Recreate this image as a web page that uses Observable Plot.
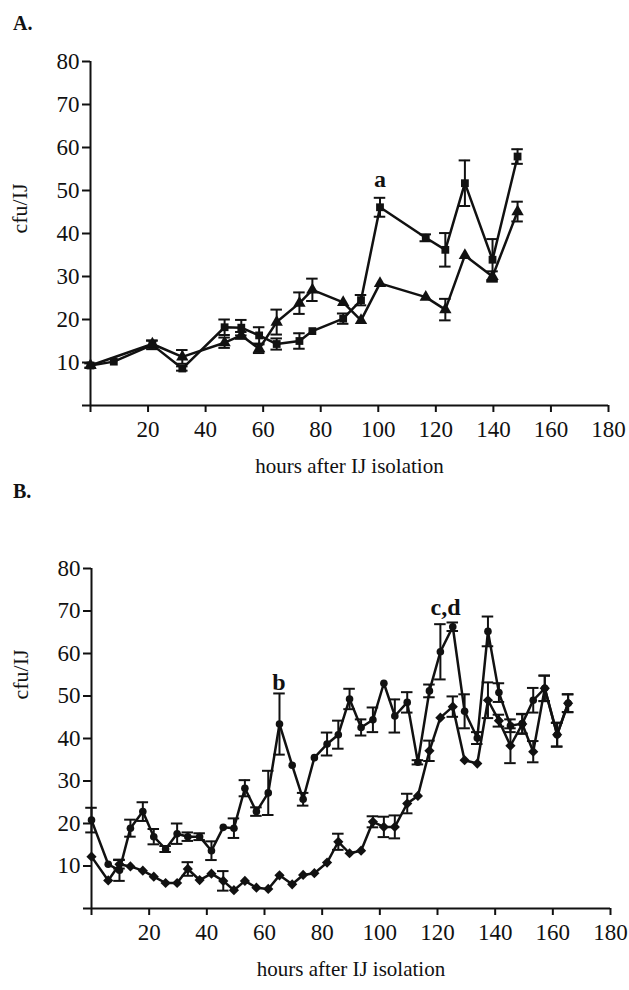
<!DOCTYPE html>
<html>
<head>
<meta charset="utf-8">
<script src="https://cdn.jsdelivr.net/npm/d3@7"></script>
<script src="https://cdn.jsdelivr.net/npm/@observablehq/plot@0.6"></script>
<style>
  body { margin: 0; background: #fff; }
  #wrap { position: relative; width: 629px; height: 990px; overflow: hidden; }
  .panel { position: absolute; left: 0; }
  .hd { position: absolute; left: 13px; font-family: "Liberation Serif", "Times New Roman", serif; font-weight: bold; font-size: 20px; line-height: 1; color: #111; }
</style>
</head>
<body>
<div id="wrap">
  <div id="pa" class="panel" style="top:0px"></div>
  <div id="pb" class="panel" style="top:490px"></div>
  <div class="hd" style="top:13px">A.</div>
  <div class="hd" style="top:481px">B.</div>
</div>
<script>
// ---------- Panel A data ----------
const hoursA_square = [0, 8.1, 21.5, 31.9, 46.6, 52.4, 58.6, 64.7, 72.6, 77.1, 87.8, 94.0, 100.6, 116.5, 123.3, 130.1, 139.7, 148.4];
const cfuA_square   = [9.3, 10.2, 14.1, 8.6, 18.2, 18.1, 16.3, 14.3, 15.0, 17.3, 20.2, 24.5, 46.1, 39.0, 36.2, 51.7, 33.9, 57.9];
const errA_square   = [0.5, 0, 1.0, 0.5, 1.8, 1.8, 1.9, 1.3, 1.8, 0, 1.2, 1.2, 2.2, 0.8, 3.9, 5.3, 4.8, 1.7];

const hoursA_triangle = [0, 21.5, 31.9, 46.6, 52.4, 58.6, 64.7, 72.6, 77.1, 87.8, 94.0, 100.6, 116.5, 123.3, 130.1, 139.7, 148.4];
const cfuA_triangle   = [9.3, 14.3, 11.3, 14.6, 16.3, 13.2, 19.4, 23.8, 26.9, 24.0, 19.8, 28.4, 25.2, 22.3, 34.9, 30.0, 45.1];
const errA_triangle   = [0, 0.8, 1.6, 1.2, 0.8, 1.0, 2.9, 2.5, 2.6, 0, 0, 0, 0, 2.5, 0, 1.2, 2.3];

// ---------- Panel B data ----------
const hoursB = [0, 5.8, 9.7, 13.5, 17.8, 21.6, 25.7, 29.7, 33.4, 37.5, 41.6, 45.7, 49.4, 53.2, 57.2, 61.3, 65.2, 69.6, 73.4, 77.3, 81.7, 85.6, 89.5, 93.5, 97.6, 101.4, 105.2, 109.5, 113.2, 117.2, 121.0, 125.3, 129.4, 133.8, 137.5, 141.3, 145.3, 149.4, 153.2, 157.2, 161.5, 165.3];
const cfuB_circle = [20.8, 10.4, 9.0, 18.9, 22.8, 16.9, 14.0, 17.6, 16.9, 16.9, 13.6, 19.1, 18.9, 28.3, 22.8, 27.2, 43.4, 33.7, 25.7, 35.5, 38.7, 40.9, 49.3, 42.6, 44.4, 53.0, 45.3, 48.5, 34.4, 51.2, 60.4, 66.3, 46.4, 40.1, 65.2, 50.8, 43.0, 43.5, 49.0, 51.8, 40.9, 48.3];
const errB_circle = [2.9, 0, 2.5, 2.0, 2.2, 1.8, 0.7, 2.4, 1.0, 0.8, 2.2, 0, 2.3, 1.9, 1.0, 5.2, 7.2, 0, 1.5, 0, 2.7, 3.3, 2.4, 1.9, 2.9, 0, 3.9, 2.4, 0.5, 1.5, 6.5, 1.0, 4.0, 1.4, 3.5, 2.2, 1.5, 2.3, 2.9, 3.0, 2.8, 2.1];
const cfuB_diamond = [12.2, 6.6, 10.4, 9.9, 8.9, 7.5, 6.0, 6.0, 9.3, 6.7, 8.2, 6.5, 4.3, 6.5, 4.9, 4.6, 7.8, 5.7, 7.9, 8.3, 10.8, 15.7, 13.0, 13.6, 20.4, 19.2, 19.2, 24.7, 26.5, 37.1, 44.9, 47.5, 34.9, 34.1, 49.0, 44.2, 38.3, 43.4, 36.9, 51.8, 40.9, 48.3];
const errB_diamond = [0, 0, 1.0, 0, 0, 0, 0, 0, 1.6, 0, 0, 2.3, 0, 0, 0, 0, 0, 0, 0, 0, 0, 1.9, 0, 0, 1.3, 2.4, 2.7, 2.3, 0, 2.4, 0, 2.4, 0, 0, 4.2, 1.4, 4.1, 2.3, 2.5, 3.0, 2.8, 2.1];

// ---------- Axis ticks & texts ----------
const xTicks = [0, 20, 40, 60, 80, 100, 120, 140, 160, 180];
const yTicks = [0, 10, 20, 30, 40, 50, 60, 70, 80];
const xTitle = "hours after IJ isolation";
const yTitle = "cfu/IJ";
const notesA = [{label: "a", x: 100.6, y: 52.5}];
const notesB = [{label: "b", x: 65.0, y: 53.2}, {label: "c,d", x: 122.8, y: 70.8}];

const rows = (xs, ys, es) => xs.map((x, i) => ({x, y: ys[i], e: es[i]}));

const FONT = "'Liberation Serif', 'Times New Roman', serif";
const INK = "#111";

function seriesMarks(data, symbol, r) {
  const withErr = data.filter(d => d.e > 0);
  const cap = 2;
  return [
    Plot.line(data, {x: "x", y: "y", stroke: INK, strokeWidth: 2.5}),
    Plot.ruleX(withErr, {x: "x", y1: d => d.y - d.e, y2: d => d.y + d.e, stroke: INK, strokeWidth: 2}),
    Plot.ruleY(withErr, {y: d => d.y + d.e, x1: d => d.x - cap, x2: d => d.x + cap, stroke: INK, strokeWidth: 2}),
    Plot.ruleY(withErr, {y: d => d.y - d.e, x1: d => d.x - cap, x2: d => d.x + cap, stroke: INK, strokeWidth: 2}),
    Plot.dot(data, {x: "x", y: "y", symbol, r, fill: INK, stroke: "none"})
  ];
}

function panel({height, marginTop, marginBottom, marginLeft, marginRight, series, notes, yTitleDy}) {
  return Plot.plot({
    width: 629, height, marginTop, marginBottom, marginLeft, marginRight,
    x: {domain: [0, 180]},
    y: {domain: [0, 80]},
    style: {fontFamily: FONT, fontSize: "23px", color: INK, background: "white"},
    marks: [
      Plot.axisX({ticks: xTicks, tickFormat: d => d === 0 ? "" : d, tickSize: 7, tickPadding: 8, strokeWidth: 2, label: null, fontSize: 23}),
      Plot.axisY({ticks: yTicks, tickFormat: d => d === 0 ? "" : d, tickSize: 8, tickPadding: 3, strokeWidth: 2, label: null, fontSize: 23}),
      Plot.ruleY([0], {stroke: INK, strokeWidth: 2}),
      Plot.ruleX([0], {stroke: INK, strokeWidth: 2}),
      ...series.flatMap(s => seriesMarks(s.data, s.symbol, s.r)),
      Plot.text(notes, {x: "x", y: "y", text: "label", fontWeight: "bold", fontSize: 24, fill: INK}),
      Plot.text([xTitle], {text: d => d, frameAnchor: "bottom", dy: 67, fontSize: 21, fill: INK}),
      Plot.text([yTitle], {text: d => d, frameAnchor: "left", rotate: -90, dx: -71, dy: yTitleDy, fontSize: 22, fill: INK})
    ]
  });
}

document.getElementById("pa").append(panel({
  height: 490, marginTop: 61, marginBottom: 85, marginLeft: 90, marginRight: 21,
  series: [
    {data: rows(hoursA_square, cfuA_square, errA_square), symbol: "square", r: 4.4},
    {data: rows(hoursA_triangle, cfuA_triangle, errA_triangle), symbol: "triangle", r: 4.6}
  ],
  notes: notesA, yTitleDy: 0
}));

document.getElementById("pb").append(panel({
  height: 500, marginTop: 78, marginBottom: 82, marginLeft: 91, marginRight: 19,
  series: [
    {data: rows(hoursB, cfuB_circle, errB_circle), symbol: "circle", r: 3.8},
    {data: rows(hoursB, cfuB_diamond, errB_diamond), symbol: "diamond2", r: 4.6}
  ],
  notes: notesB, yTitleDy: -39
}));
</script>
</body>
</html>
